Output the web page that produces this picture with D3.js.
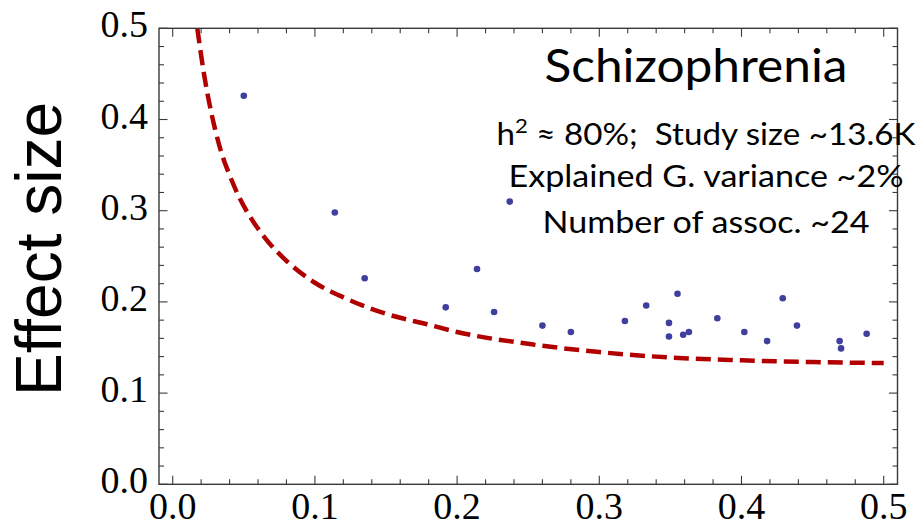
<!DOCTYPE html>
<html>
<head>
<meta charset="utf-8">
<script src="https://cdn.jsdelivr.net/npm/d3@7"></script>
<style>
  html, body { margin: 0; padding: 0; background: #fff; }
  svg { display: block; }
  .tick-label { font-family: "Liberation Serif", "DejaVu Serif", serif; font-size: 38px; fill: #000; }
  .note { font-family: Lato, "Open Sans", sans-serif; fill: #000; }
</style>
</head>
<body>
<svg id="chart" width="922" height="527"></svg>
<script>
// allele frequency (x) and effect size (y) of the reported associations
const assocFreq = [
  0.050, 0.114, 0.135, 0.192, 0.214, 0.226, 0.237, 0.260, 0.280, 0.318,
  0.333, 0.349, 0.349, 0.355, 0.359, 0.363, 0.383, 0.402, 0.418, 0.429,
  0.439, 0.469, 0.470, 0.488
];
const assocEffect = [
  0.426, 0.298, 0.226, 0.194, 0.236, 0.189, 0.310, 0.174, 0.167, 0.179,
  0.196, 0.177, 0.162, 0.209, 0.164, 0.167, 0.182, 0.167, 0.157, 0.204,
  0.174, 0.157, 0.149, 0.165
];

// detection threshold curve
const thresholdFreq = [
  0.0173, 0.022, 0.0297, 0.035, 0.040, 0.047, 0.055, 0.065, 0.080, 0.100,
  0.120, 0.150, 0.180, 0.200, 0.250, 0.300, 0.350, 0.400, 0.450, 0.500
];
const thresholdEffect = [
  0.500, 0.450, 0.390, 0.360, 0.339, 0.314, 0.292, 0.270, 0.245, 0.221,
  0.205, 0.187, 0.175, 0.167, 0.154, 0.145, 0.139, 0.136, 0.134, 0.133
];

const xMajor = [0.0, 0.1, 0.2, 0.3, 0.4, 0.5];
const yMajor = [0.0, 0.1, 0.2, 0.3, 0.4, 0.5];
const minorStep = 0.02;

const titleText = "Schizophrenia";
const noteLines = [
  "Explained G. variance ~2%",
  "Number of assoc. ~24"
];

const svg = d3.select("#chart");

const x = d3.scaleLinear().domain([0, 0.5]).range([172.7, 883.7]);
const y = d3.scaleLinear().domain([0, 0.5]).range([484.3, 28.3]);

const frame = { left: 159, right: 897.5, top: y(0.5), bottom: y(0) };

const minors = d3.range(0, 0.5001, minorStep).map((v) => +v.toFixed(2));
const isMajor = (v) => Math.abs(v * 10 - Math.round(v * 10)) < 1e-6;

// threshold curve (under the frame)
const line = d3.line()
  .x((d, i) => x(thresholdFreq[i]))
  .y((d, i) => y(thresholdEffect[i]))
  .curve(d3.curveMonotoneX);

svg.append("defs").append("clipPath").attr("id", "plot-clip")
  .append("rect")
  .attr("x", frame.left).attr("y", frame.top)
  .attr("width", frame.right - frame.left)
  .attr("height", frame.bottom - frame.top);

svg.append("path")
  .datum(thresholdEffect)
  .attr("clip-path", "url(#plot-clip)")
  .attr("d", line)
  .attr("fill", "none")
  .attr("stroke", "#b00000")
  .attr("stroke-width", 4.5)
  .attr("stroke-dasharray", "15,7");

// associations
svg.append("g")
  .selectAll("circle")
  .data(assocFreq)
  .join("circle")
  .attr("cx", (d) => x(d))
  .attr("cy", (d, i) => y(assocEffect[i]))
  .attr("r", 3.3)
  .attr("fill", "#3f3f9e");

// frame with inward ticks on all four sides
const axisColor = "#3a3a3a";
const g = svg.append("g").attr("stroke", axisColor).attr("fill", "none");

g.append("rect")
  .attr("x", frame.left).attr("y", frame.top)
  .attr("width", frame.right - frame.left)
  .attr("height", frame.bottom - frame.top)
  .attr("stroke-width", 1.4);

const tickLen = (v) => (isMajor(v) ? 8.5 : 5);

minors.forEach((v) => {
  // bottom + top
  g.append("line")
    .attr("x1", x(v)).attr("x2", x(v))
    .attr("y1", frame.bottom).attr("y2", frame.bottom - tickLen(v))
    .attr("stroke-width", 1.1);
  g.append("line")
    .attr("x1", x(v)).attr("x2", x(v))
    .attr("y1", frame.top).attr("y2", frame.top + tickLen(v))
    .attr("stroke-width", 1.1);
  // left + right
  g.append("line")
    .attr("y1", y(v)).attr("y2", y(v))
    .attr("x1", frame.left).attr("x2", frame.left + tickLen(v))
    .attr("stroke-width", 1.1);
  g.append("line")
    .attr("y1", y(v)).attr("y2", y(v))
    .attr("x1", frame.right).attr("x2", frame.right - tickLen(v))
    .attr("stroke-width", 1.1);
});

// tick labels
svg.append("g")
  .selectAll("text")
  .data(xMajor)
  .join("text")
  .attr("class", "tick-label")
  .attr("x", (d) => x(d))
  .attr("y", 519)
  .attr("text-anchor", "middle")
  .text((d) => d.toFixed(1));

svg.append("g")
  .selectAll("text")
  .data(yMajor)
  .join("text")
  .attr("class", "tick-label")
  .attr("x", 148)
  .attr("y", (d) => y(d) + 9)
  .attr("text-anchor", "end")
  .text((d) => d.toFixed(1));

// axis title
svg.append("text")
  .attr("transform", "translate(61,249) rotate(-90)")
  .attr("text-anchor", "middle")
  .style("font-family", "'Liberation Sans', Arial, sans-serif")
  .style("font-size", "64px")
  .text("Effect size");

// annotation block
svg.append("text")
  .attr("class", "note")
  .attr("x", 696).attr("y", 82)
  .attr("text-anchor", "middle")
  .style("font-size", "46px")
  .attr("textLength", 303)
  .attr("lengthAdjust", "spacingAndGlyphs")
  .text(titleText);

const first = svg.append("text")
  .attr("class", "note")
  .attr("x", 706).attr("y", 145)
  .attr("text-anchor", "middle")
  .style("font-size", "30px")
  .attr("textLength", 419)
  .attr("lengthAdjust", "spacingAndGlyphs");
first.append("tspan").text("h");
first.append("tspan").attr("dy", -12).style("font-size", "20px").text("2");
first.append("tspan").attr("dy", 12).text(" \u2248 80%;\u00a0 Study size ~13.6K");

const noteY = [187, 233];
const noteW = [395, 327];
svg.append("g")
  .selectAll("text")
  .data(noteLines)
  .join("text")
  .attr("class", "note")
  .attr("x", 706)
  .attr("y", (d, i) => noteY[i])
  .attr("text-anchor", "middle")
  .style("font-size", "30px")
  .attr("textLength", (d, i) => noteW[i])
  .attr("lengthAdjust", "spacingAndGlyphs")
  .text((d) => d);
</script>
</body>
</html>
